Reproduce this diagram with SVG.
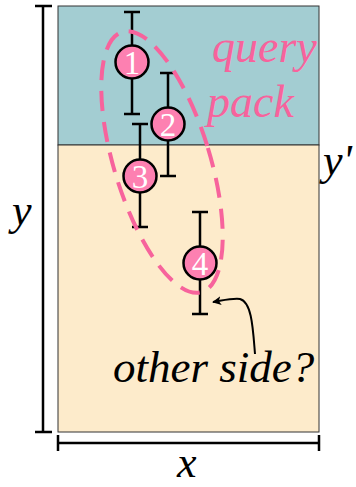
<svg xmlns="http://www.w3.org/2000/svg" width="356" height="487" viewBox="0 0 356 487">
<defs>
<style>
.lbl{font-family:"Liberation Serif","Times New Roman","DejaVu Serif",serif;font-style:italic;fill:#000}
.pk{font-family:"Liberation Serif","Times New Roman","DejaVu Serif",serif;font-style:italic;fill:#f7639c;font-size:46px}
.bar{stroke:#000;stroke-width:2.5;fill:none}
.dot{fill:#fd80b1;stroke:#000;stroke-width:2.5}
.num{font-family:"Liberation Serif","Times New Roman","DejaVu Serif",serif;font-size:33px;fill:#fff;text-anchor:middle}
</style>
<marker id="ah" viewBox="0 0 10 10" refX="9" refY="5" markerWidth="9" markerHeight="9" markerUnits="userSpaceOnUse" orient="auto">
<path d="M0,0 L10,5 L0,10 L2.5,5 Z" fill="#000"/>
</marker>
</defs>
<g id="regions">
<rect x="58" y="6" width="261" height="139" fill="#a3cdd2" stroke="#333" stroke-width="1"/>
<rect x="58" y="145" width="261" height="287" fill="#fdebcb" stroke="#333" stroke-width="1"/>
</g>
<g id="axes">
<path class="bar" d="M43,6 V432 M35,6 H52 M35,432 H52"/>
<path class="bar" d="M58,443 H319 M58,435 V451 M319,435 V451"/>
<text class="lbl" x="177" y="477" font-size="44">x</text>
<text class="lbl" x="12" y="225" font-size="44">y</text>
<text class="lbl" x="323" y="175" font-size="44">y'</text>
</g>
<g id="pt1">
<path class="bar" d="M132,12 V114 M124,12 H140 M124,114 H140"/>
<circle class="dot" cx="132" cy="62" r="16.5"/>
<text class="num" x="132" y="74">1</text>
</g>
<g id="pt2">
<path class="bar" d="M168,73 V176 M160,73 H176 M160,176 H176"/>
<circle class="dot" cx="168" cy="124" r="16.5"/>
<text class="num" x="168" y="136">2</text>
</g>
<g id="pt3">
<path class="bar" d="M140,124 V227 M132,124 H148 M132,227 H148"/>
<circle class="dot" cx="140" cy="176" r="16.5"/>
<text class="num" x="140" y="188">3</text>
</g>
<g id="pt4">
<path class="bar" d="M200,212 V314 M192,212 H208 M192,314 H208"/>
<circle class="dot" cx="200" cy="263" r="16.5"/>
<text class="num" x="200" y="275">4</text>
</g>
<g id="pack">
<ellipse cx="162" cy="162" rx="48" ry="136" transform="rotate(-17 162 162)" fill="none" stroke="#f7639c" stroke-width="4" stroke-dasharray="20 11"/>
<text class="pk" x="212" y="62">query</text>
<text class="pk" x="207" y="117">pack</text>
</g>
<g id="connectors">
<path d="M255,354 C253,330 252,302 240,299 C233,298 225,300 213,302" fill="none" stroke="#000" stroke-width="2" marker-end="url(#ah)"/>
</g>
<g id="note">
<text class="lbl" x="113" y="382" font-size="45">other side?</text>
</g>
</svg>
